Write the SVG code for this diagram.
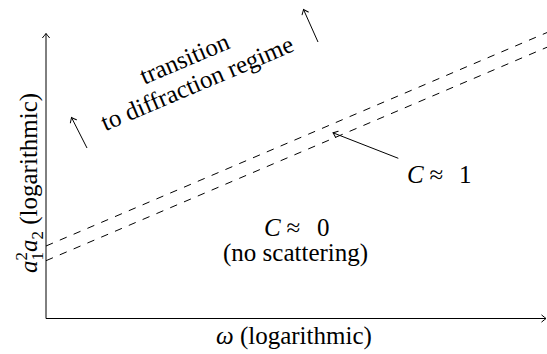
<svg xmlns="http://www.w3.org/2000/svg" width="547" height="354" viewBox="0 0 547 354">
<defs>
<marker id="ah" markerUnits="userSpaceOnUse" markerWidth="12" markerHeight="12" viewBox="-6 -6 12 12" refX="0" refY="0" orient="auto">
<path d="M-4.2,-3.4 Q-1.2,-0.9 0,0 Q-1.2,0.9 -4.2,3.4" fill="none" stroke="#000" stroke-width="1" stroke-linecap="round"/>
</marker>
</defs>
<g id="axes" stroke="#000" stroke-width="1" fill="none">
<line x1="46" y1="318.5" x2="46" y2="33.5" marker-end="url(#ah)"/>
<line x1="46" y1="318.5" x2="546" y2="318.5" marker-end="url(#ah)"/>
</g>
<g id="connectors" stroke="#000" stroke-width="1" fill="none">
<g stroke-dasharray="7.5 7.5">
<line x1="46" y1="246" x2="560" y2="27"/>
<line x1="46" y1="260.7" x2="560" y2="41.7"/>
</g>
<line x1="87" y1="148" x2="71.5" y2="117.5" marker-end="url(#ah)"/>
<line x1="318" y1="42" x2="303.5" y2="9.5" marker-end="url(#ah)"/>
<line x1="398.3" y1="158.3" x2="333" y2="132.8" marker-end="url(#ah)"/>
</g>
<g id="ylabel">
<text transform="translate(37,181) rotate(-90)" x="-92" y="0" font-family="Liberation Serif" font-size="25"><tspan font-style="italic">a</tspan><tspan font-size="17" dy="6">1</tspan><tspan font-size="17" dx="-8.5" dy="-16">2</tspan><tspan font-style="italic" dy="10">a</tspan><tspan font-size="17" dy="6">2</tspan><tspan dy="-6"> (logarithmic)</tspan></text>
</g>
<g id="xlabel">
<text x="216" y="344" font-family="Liberation Serif" font-size="25"><tspan font-style="italic">ω</tspan> (logarithmic)</text>
</g>
<g id="transition">
<text transform="translate(188.5,66) rotate(-23)" x="-48" y="0" font-family="Liberation Serif" font-size="25">transition</text>
<text transform="translate(188.5,66) rotate(-23)" x="-102" y="27.5" font-family="Liberation Serif" font-size="25">to diffraction regime</text>
</g>
<g id="c1">
<text x="407" y="183.3" font-family="Liberation Serif" font-size="25"><tspan font-style="italic">C</tspan><tspan x="429.5">≈</tspan><tspan x="459">1</tspan></text>
</g>
<g id="c0">
<text x="264" y="236" font-family="Liberation Serif" font-size="25"><tspan font-style="italic">C</tspan><tspan x="286.5">≈</tspan><tspan x="317">0</tspan></text>
<text x="223" y="261" font-family="Liberation Serif" font-size="25">(no scattering)</text>
</g>
</svg>
